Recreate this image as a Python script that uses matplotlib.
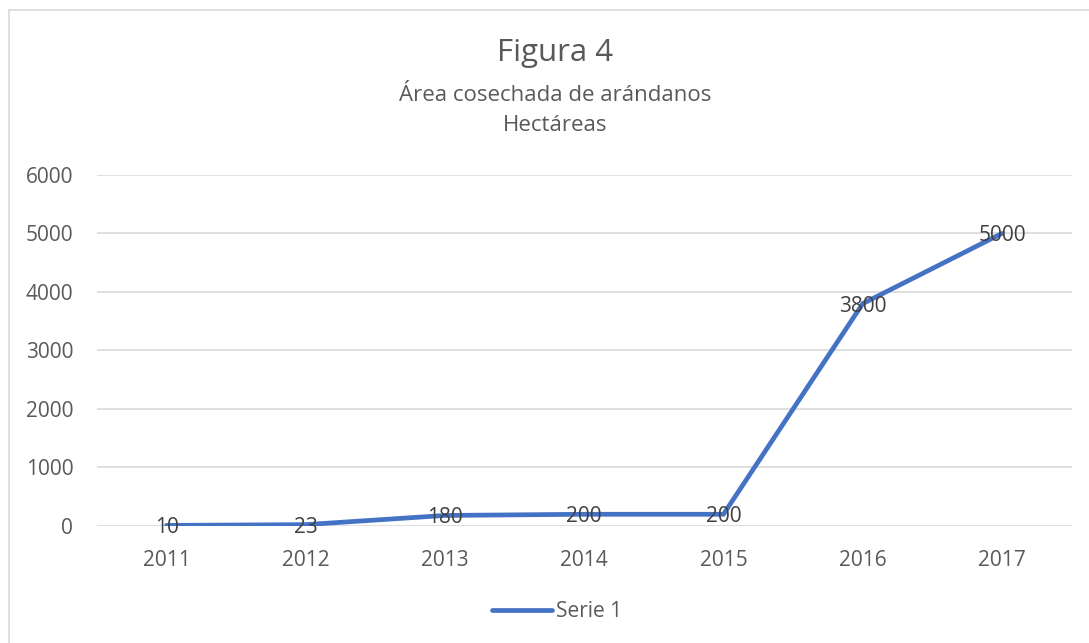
import matplotlib.pyplot as plt
from matplotlib.patches import Rectangle

# Datos
anios = ['2011', '2012', '2013', '2014', '2015', '2016', '2017']
hectareas = [10, 23, 180, 200, 200, 3800, 5000]
etiquetas = ['10', '23', '180', '200', '200', '3800', '5000']

plt.rcParams['font.family'] = ['Open Sans', 'DejaVu Sans']

fig = plt.figure(figsize=(10.89, 6.43), dpi=100)
ax = fig.add_axes([0.089, 0.182, 0.895, 0.546])

# Borde del área del gráfico
fig.patches.append(Rectangle((0.008, -0.01), 1.0, 0.995, transform=fig.transFigure,
                             fill=False, edgecolor='#d9d9d9', linewidth=1.2))

x = list(range(len(anios)))
ax.plot(x, hectareas, color='#4472C4', linewidth=3.4, solid_capstyle='round',
        label='Serie 1')

for xi, yi, txt in zip(x, hectareas, etiquetas):
    ax.text(xi, yi, txt, ha='center', va='center_baseline', fontsize=15, color='#404040')

ax.set_xlim(-0.5, 6.5)
ax.set_ylim(0, 6000)
ax.set_yticks(range(0, 6001, 1000))
ax.set_xticks(x)
ax.set_xticklabels(anios)
ax.tick_params(axis='both', length=0, labelsize=15, colors='#595959')
ax.tick_params(axis='y', pad=17)
ax.tick_params(axis='x', pad=17)
ax.grid(axis='y', color='#d9d9d9', linewidth=1.2)
ax.set_axisbelow(True)
for s in ax.spines.values():
    s.set_visible(False)

fig.text(0.51, 0.918, 'Figura 4', ha='center', va='center', fontsize=22.5, color='#595959')
fig.text(0.51, 0.852, 'Área cosechada de arándanos', ha='center', va='center',
         fontsize=16, color='#595959')
fig.text(0.51, 0.805, 'Hectáreas', ha='center', va='center', fontsize=16, color='#595959')

ax.legend(loc='center', bbox_to_anchor=(0.472, -0.245), frameon=False, fontsize=15,
          handlelength=2.9, handletextpad=0.2, labelcolor='#595959')

fig.savefig('out.png', dpi=100)
